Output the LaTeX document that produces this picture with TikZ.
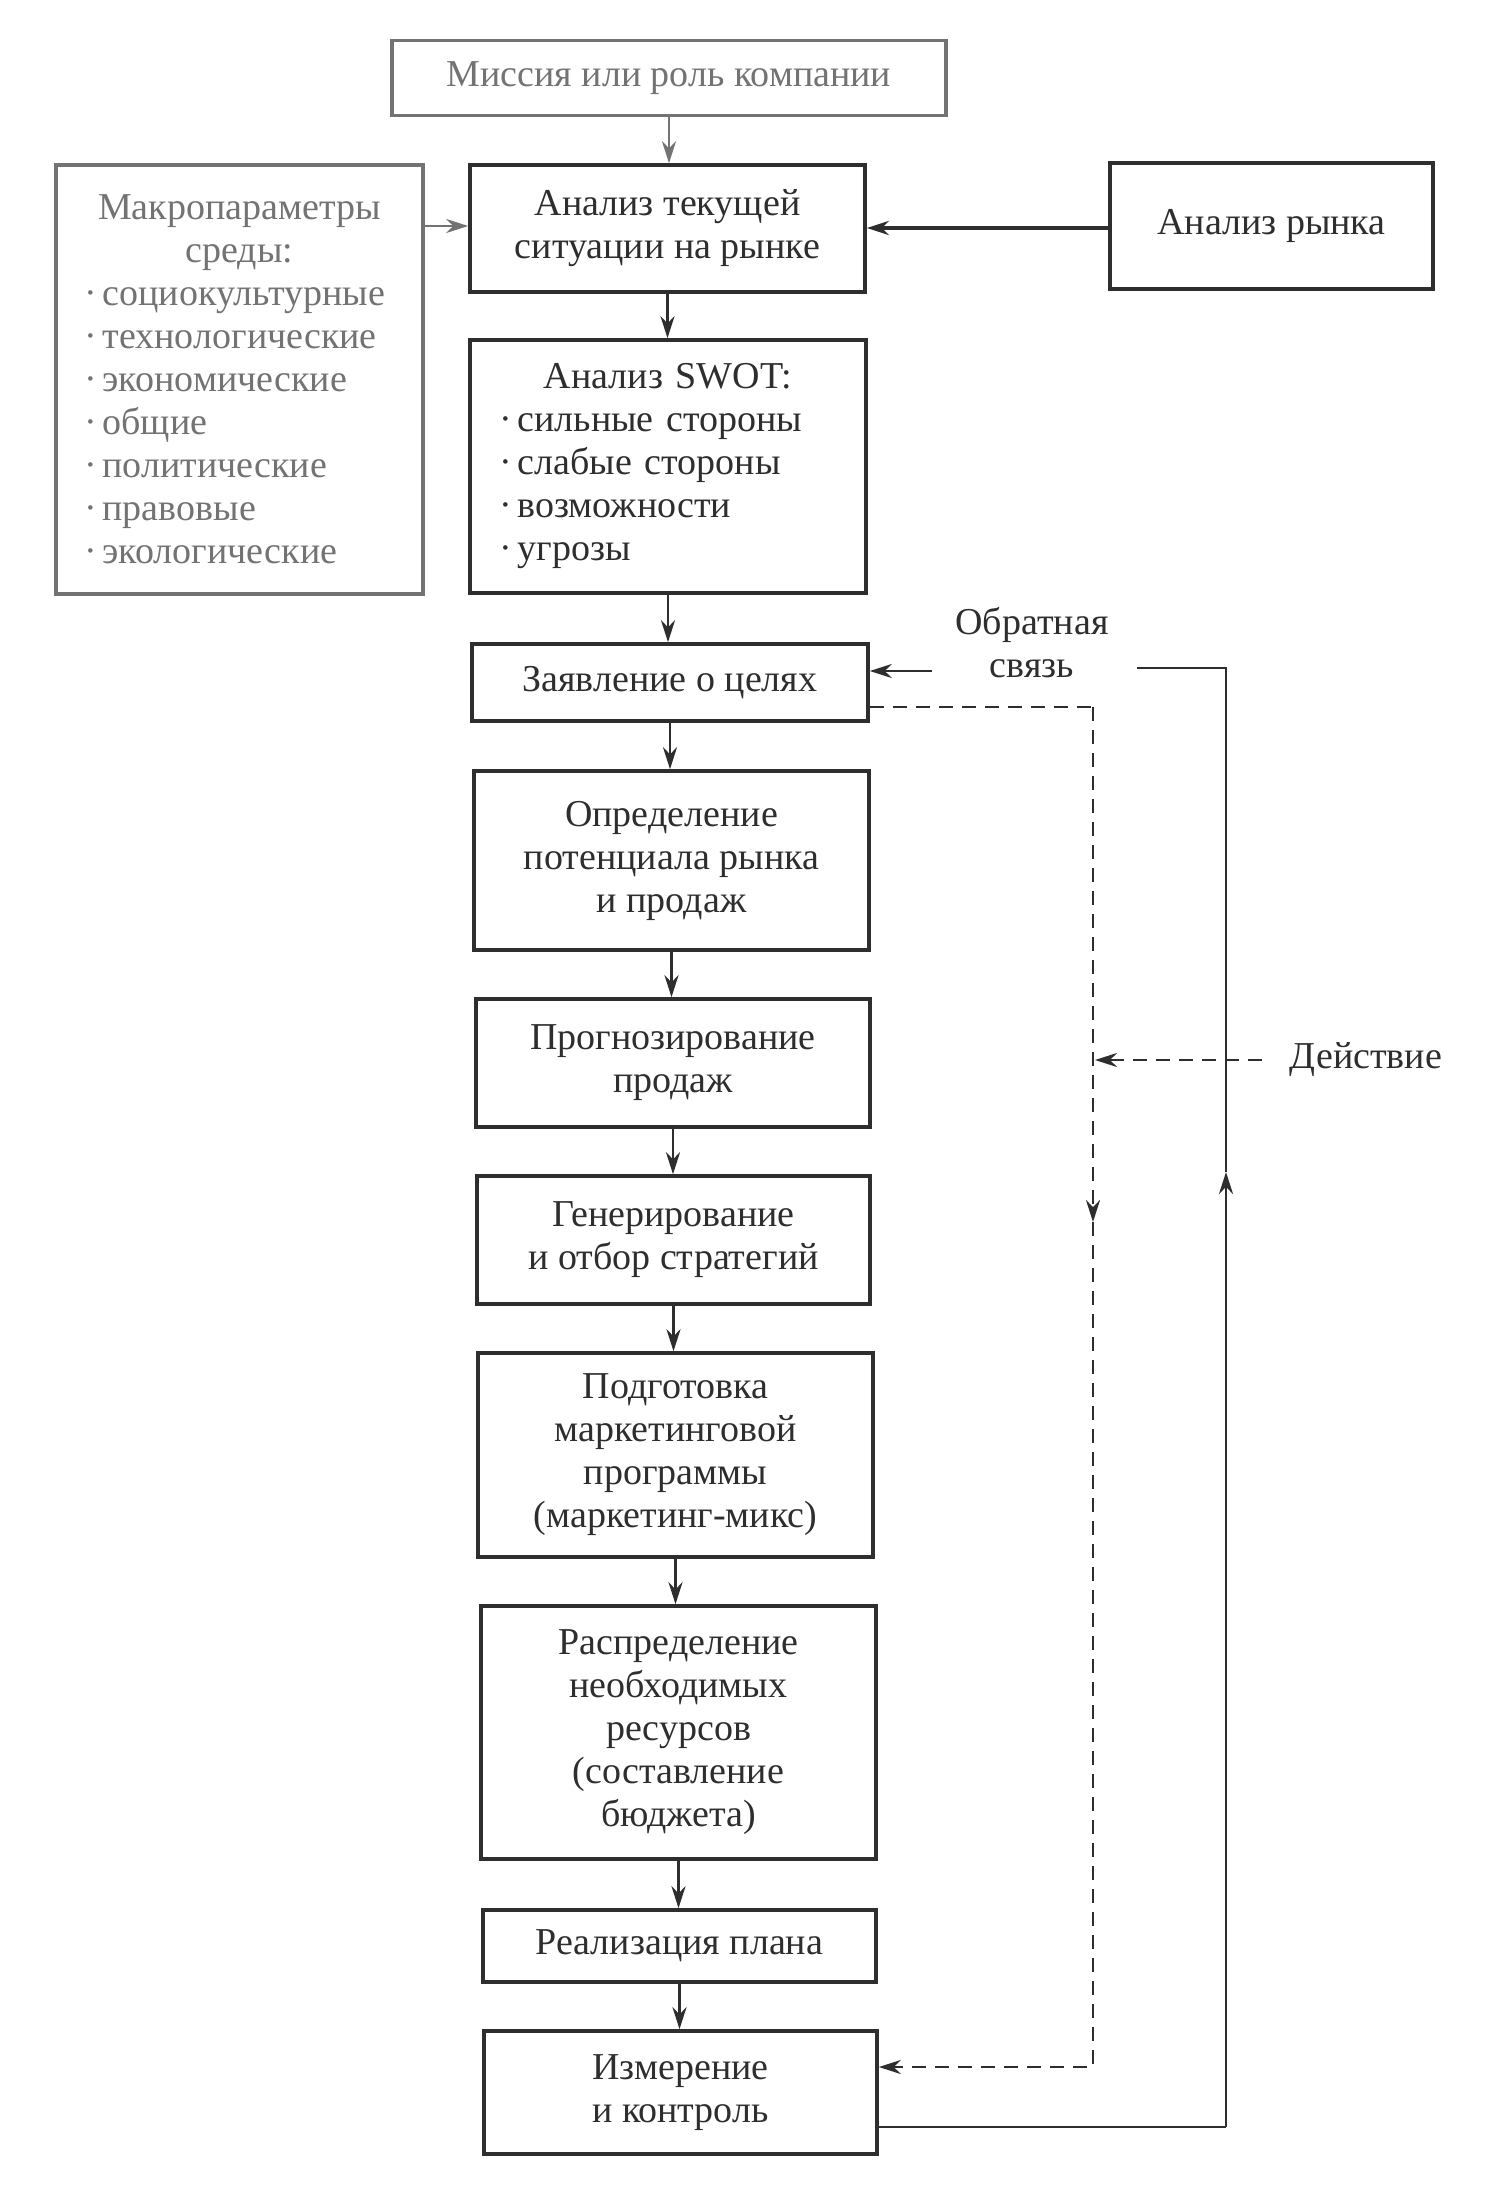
\documentclass[tikz,border=0pt]{standalone}
\usepackage{fontspec}
\setmainfont{Liberation Serif}
\usetikzlibrary{arrows.meta}
\definecolor{ink}{gray}{0.18}
\definecolor{inklt}{gray}{0.45}
\newcommand{\bfs}{\fontsize{19pt}{21.5pt}\selectfont}
\newcommand{\bl}{·\hspace{3pt}}
\begin{document}
\begin{tikzpicture}[x=0.5pt,y=-0.5pt,
  box/.style={draw=ink, line width=1.8pt, text=ink, inner sep=0pt, align=center, font=\bfs},
  ltbox/.style={box, draw=inklt, text=inklt},
  lbl/.style={text=ink, inner sep=0pt, align=center, font=\bfs},
  arr/.style={-{Stealth[length=11pt,width=7pt]}, line width=1.4pt, draw=ink},
  ln/.style={line width=1.4pt, draw=ink},
  dsh/.style={line width=1.4pt, draw=ink, dash pattern=on 7pt off 4.5pt}]
\useasboundingbox (0,0) rectangle (1500,2189);
\fill[white] (0,0) rectangle (1500,2189);

% boxes
\node[ltbox, minimum width=277pt, minimum height=37.5pt] (mission) at (669,78) {Миссия или роль компании};
\node[box, minimum width=197.5pt, minimum height=63.5pt] (cur) at (667.5,228.5) {Анализ текущей\\ситуации на рынке};
\node[ltbox, minimum width=183.5pt, minimum height=214.5pt, text width=155.5pt, inner xsep=14pt, align=left] (macro) at (239.5,379.5)
 {\makebox[\linewidth][c]{Макропараметры}\\\makebox[\linewidth][c]{среды:}\\\bl социокультурные\\\bl технологические\\\bl экономические\\\bl общие\\\bl политические\\\bl правовые\\\bl экологические};
\node[box, line width=2.2pt, minimum width=161.5pt, minimum height=63pt] (market) at (1271.5,226) {Анализ рынка};
\node[box, minimum width=198pt, minimum height=126.5pt, text width=169pt, inner xsep=14.5pt, align=left] (swot) at (668,466.5)
 {\makebox[\linewidth][c]{Анализ SWOT:}\\\bl сильные стороны\\\bl слабые стороны\\\bl возможности\\\bl угрозы};
\node[box, minimum width=198pt, minimum height=38.5pt] (goals) at (670,682.5) {Заявление о целях};
\node[box, minimum width=197.5pt, minimum height=89.5pt] (det) at (671.5,860.5) {Определение\\потенциала рынка\\и продаж};
\node[box, minimum width=197pt, minimum height=64pt] (fore) at (673,1063) {Прогнозирование\\продаж};
\node[box, minimum width=196.5pt, minimum height=64pt] (gen) at (673.5,1240) {Генерирование\\и отбор стратегий};
\node[box, minimum width=197.5pt, minimum height=102pt] (prep) at (675.5,1455) {Подготовка\\маркетинговой\\программы\\(маркетинг-микс)};
\node[box, minimum width=197.5pt, minimum height=126.5pt] (dist) at (678.5,1732.5) {Распределение\\необходимых\\ресурсов\\(составление\\бюджета)};
\node[box, minimum width=196.5pt, minimum height=36pt] (real) at (679.5,1946) {Реализация плана};
\node[box, minimum width=196.5pt, minimum height=61.5pt] (meas) at (680.5,2092.5) {Измерение\\и контроль};

% labels
\node[lbl] (fb) at (1032,643) {Обратная\\связь};
\node[lbl] (act) at (1366,1060) {Действие};

% main chain
\draw[arr, draw=inklt] (mission.south) -- (mission.south |- cur.north);
\draw[arr] (cur.south) -- (cur.south |- swot.north);
\draw[arr] (swot.south) -- (swot.south |- goals.north);
\draw[arr] (goals.south) -- (goals.south |- det.north);
\draw[arr] (det.south) -- (det.south |- fore.north);
\draw[arr] (fore.south) -- (fore.south |- gen.north);
\draw[arr] (gen.south) -- (gen.south |- prep.north);
\draw[arr] (prep.south) -- (prep.south |- dist.north);
\draw[arr] (dist.south) -- (dist.south |- real.north);
\draw[arr] (real.south) -- (real.south |- meas.north);

% side inputs
\coordinate (macroout) at (423,226);
\draw[arr, draw=inklt] (macroout) -- (macroout -| cur.west);
\coordinate (mktout) at (1110,228);
\draw[arr, line width=2.2pt] (mktout) -- (mktout -| cur.east);

% feedback (solid)
\coordinate (fbstart) at (1137,668);
\coordinate (fbtop) at (1226,668);
\coordinate (fbup) at (1226,1172);
\coordinate (fbbot) at (1226,2127);
\draw[ln] (meas.east |- fbbot) -- (fbbot);
\draw[arr] (fbbot) -- (fbup);
\draw[ln] (fbup) -- (fbtop) -- (fbstart);
\coordinate (fbin) at (932,671);
\draw[arr] (fbin) -- (fbin -| goals.east);

% action (dashed)
\coordinate (dstart) at (868,707);
\coordinate (dtop) at (1093,707);
\coordinate (ddown) at (1093,1222);
\coordinate (dbot) at (1093,2067);
\draw[dsh] (goals.east |- dstart) -- (dtop);
\draw[dsh, -{Stealth[length=11pt,width=7pt]}] (dtop) -- (ddown);
\draw[dsh, -{Stealth[length=11pt,width=7pt]}] (ddown) -- (dbot) -- (dbot -| meas.east);
\coordinate (astart) at (1262,1060);
\draw[dsh, -{Stealth[length=11pt,width=7pt]}] (astart) -- (1095,1060);
\end{tikzpicture}
\end{document}
